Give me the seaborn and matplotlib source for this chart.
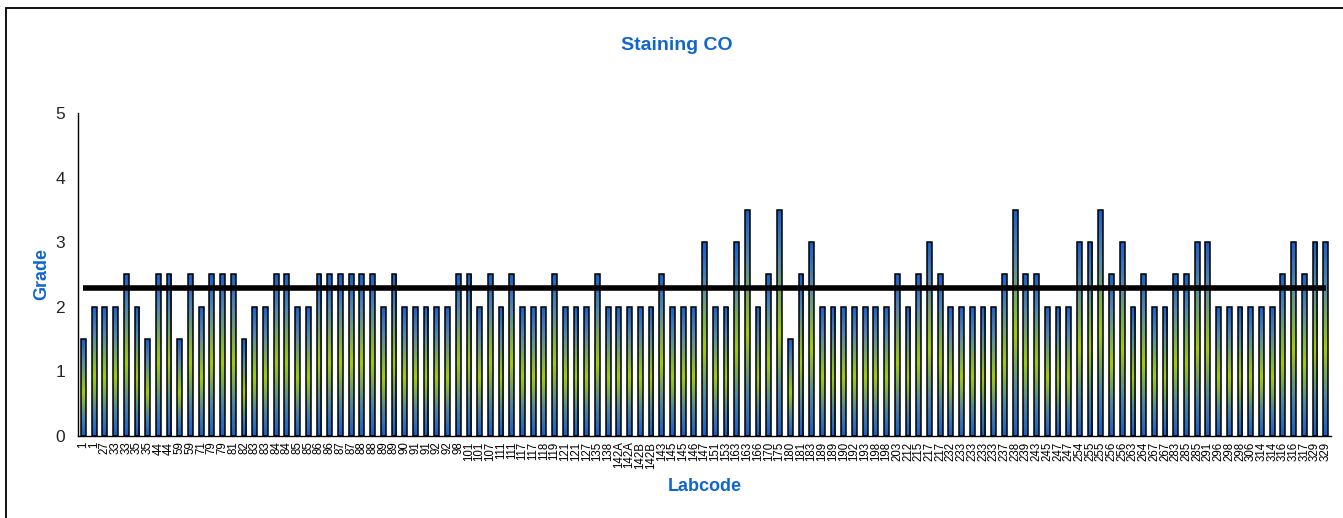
import numpy as np
import pandas as pd
import seaborn as sns
import matplotlib.pyplot as plt
from matplotlib.colors import LinearSegmentedColormap
from matplotlib.patches import Rectangle

# ==========
# Chart data
# ==========
labcodes = [
    '1', '1', '27', '33', '33', '35', '35', '44', '44', '59', '59', '71', '79', '79', '81',
    '82', '83', '83', '84', '84', '85', '85', '86', '86', '87', '87', '88', '88', '89', '89',
    '90', '91', '91', '92', '92', '98', '101', '101', '107', '111', '111', '117', '117', '118',
    '119', '121', '121', '127', '135', '138', '142A', '142A', '142B', '142B', '143', '145',
    '145', '146', '147', '151',
    '153', '163', '163', '166', '170', '175', '180', '181', '183', '189', '189', '190', '192',
    '193', '198', '198', '203', '212', '215', '217', '217', '232', '233', '233', '233', '233',
    '237', '238', '239', '243',
    '245', '247', '247', '254', '255', '255', '256', '256', '263', '264', '267', '267', '283',
    '285', '285', '291', '296', '298', '298', '306', '314', '314', '316', '316', '317', '329',
    '329',
]
grades = [
    1.5, 2, 2, 2, 2.5, 2, 1.5, 2.5, 2.5, 1.5, 2.5, 2, 2.5, 2.5, 2.5,
    1.5, 2, 2, 2.5, 2.5, 2, 2, 2.5, 2.5, 2.5, 2.5, 2.5, 2.5, 2, 2.5,
    2, 2, 2, 2, 2, 2.5, 2.5, 2, 2.5, 2, 2.5, 2, 2, 2,
    2.5, 2, 2, 2, 2.5, 2, 2, 2, 2, 2, 2.5, 2,
    2, 2, 3, 2,
    2, 3, 3.5, 2, 2.5, 3.5, 1.5, 2.5, 3, 2, 2, 2, 2,
    2, 2, 2, 2.5, 2, 2.5, 3, 2.5, 2, 2, 2, 2, 2,
    2.5, 3.5, 2.5, 2.5,
    2, 2, 2, 3, 3, 3.5, 2.5, 3, 2, 2.5, 2, 2, 2.5,
    2.5, 3, 3, 2, 2, 2, 2, 2, 2, 2.5, 3, 2.5, 3,
    3,
]
yticks = [0, 1, 2, 3, 4, 5]

BLUE = '#1166CC'

sns.set_theme(style='white')
plt.rcParams['font.family'] = ['Liberation Sans', 'DejaVu Sans']

df = pd.DataFrame({'pos': np.arange(len(grades)), 'grade': grades})
mean_grade = df['grade'].mean()

fig = plt.figure(figsize=(13.43, 5.18), dpi=100)
ax = fig.add_axes([0.0581, 0.1583, 0.9330, 0.6236])

sns.barplot(data=df, x='pos', y='grade', width=0.45, color='white',
            edgecolor='black', linewidth=1.1, ax=ax, zorder=3)

# vertical gradient fill inside each bar (blue - lime - blue)
cmap = LinearSegmentedColormap.from_list(
    'bar', [(0.0, '#1a5ec8'), (0.22, '#5588b0'), (0.55, '#9fcc10'),
            (0.8, '#4f84a4'), (1.0, '#1a5ec8')])
grad = np.linspace(0, 1, 256).reshape(-1, 1)
for patch in ax.patches:
    x0, y0 = patch.get_x(), patch.get_y()
    w, h = patch.get_width(), patch.get_height()
    patch.set_facecolor('none')
    img = ax.imshow(grad, cmap=cmap, aspect='auto', origin='upper',
                    extent=[x0, x0 + w, y0, y0 + h], zorder=2.5, interpolation='bilinear')
    img.set_clip_path(patch)

# mean line across all labs
ax.plot(df['pos'], [mean_grade] * len(df), color='black', linewidth=4, zorder=4,
        solid_capstyle='butt')

ax.set_xlim(-0.5, len(grades) - 0.5)
ax.set_ylim(0, 5)
ax.set_yticks(yticks)
ax.set_yticklabels([str(t) for t in yticks], fontsize=12.5)
ax.set_xticks(np.arange(len(grades)))
ax.set_xticklabels(labcodes, rotation=90, fontsize=8.3)
ax.set_xticks(np.arange(-0.5, len(grades)), minor=True)
ax.tick_params(axis='x', which='major', length=0, pad=4, colors='black')
ax.tick_params(axis='x', which='minor', direction='inout', length=5, width=1, color='black')
ax.tick_params(axis='y', direction='inout', length=8.5, width=1, color='black', pad=5)

for side in ['top', 'right']:
    ax.spines[side].set_visible(False)
for side in ['left', 'bottom']:
    ax.spines[side].set_color('black')
    ax.spines[side].set_linewidth(1)
ax.grid(False)

ax.set_xlabel('Labcode', fontsize=13, fontweight='bold', color=BLUE, labelpad=7)
ax.set_ylabel('Grade', fontsize=13, fontweight='bold', color=BLUE, labelpad=4)
fig.text(0.504, 1 - 45 / 518, 'Staining CO', ha='center', va='center',
         fontsize=14, fontweight='bold', color=BLUE)

# outer chart frame (bottom edge is cropped in the reference)
fig.patches.append(Rectangle((6 / 1343, -0.2), 1.2, 1.2 - 8 / 518,
                             transform=fig.transFigure, fill=False,
                             edgecolor='black', linewidth=1.3))

fig.savefig('out.png', dpi=100)
